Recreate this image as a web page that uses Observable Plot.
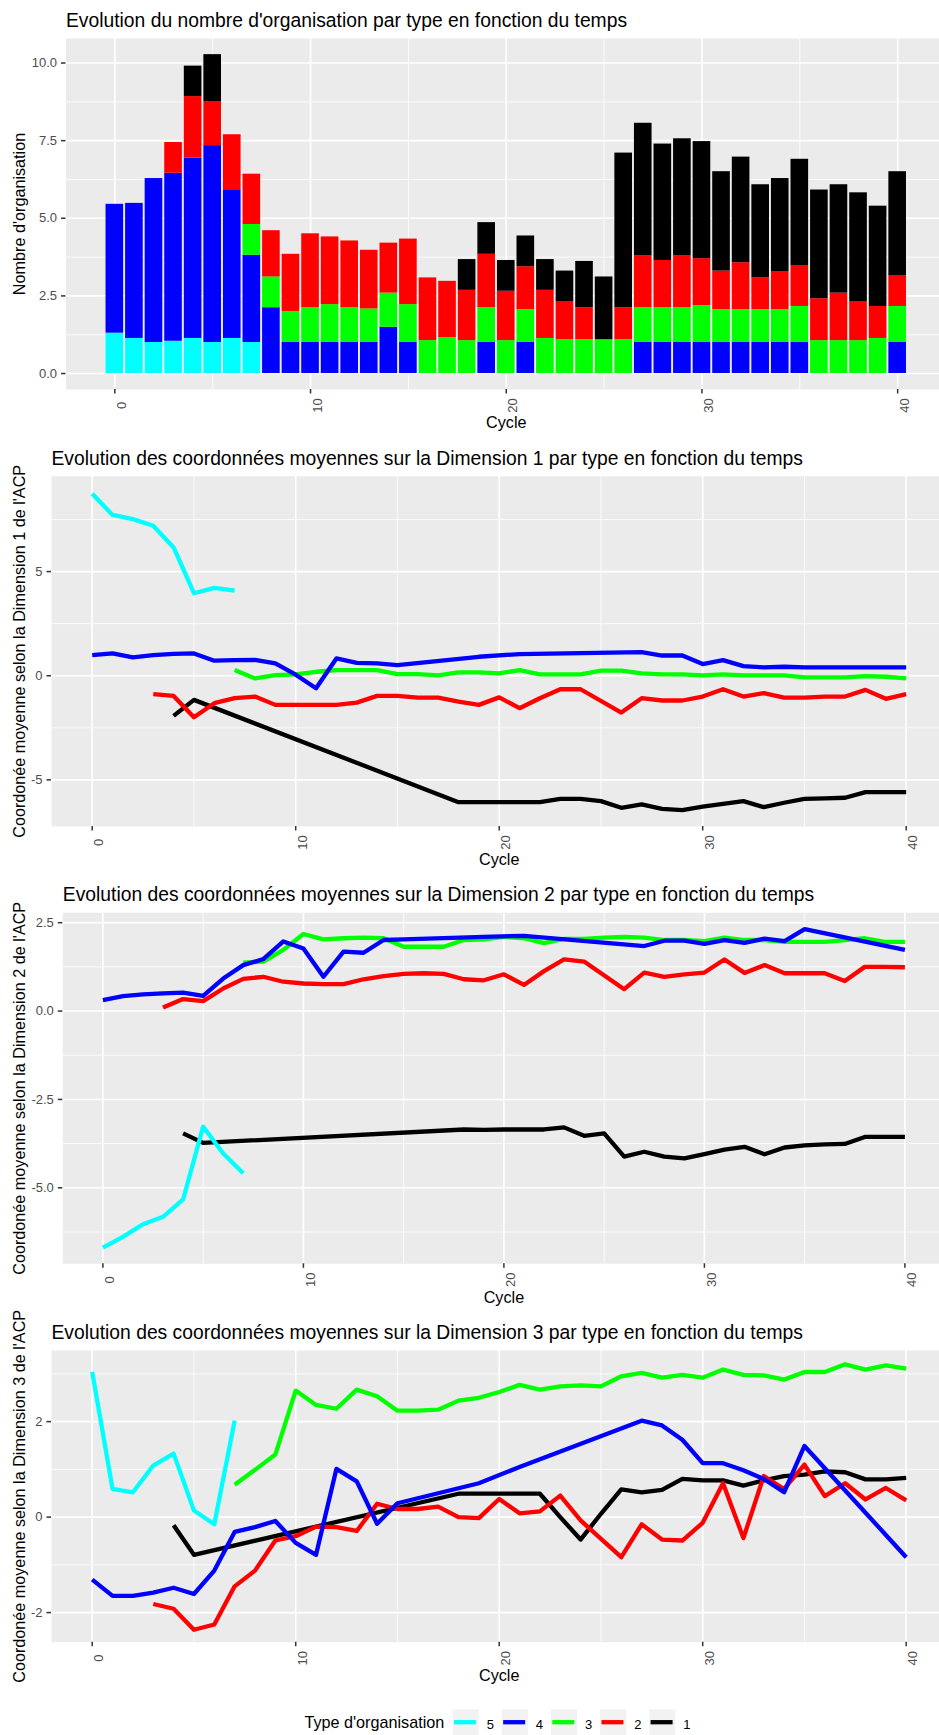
<!DOCTYPE html>
<html><head><meta charset="utf-8">
<script src="https://cdn.jsdelivr.net/npm/d3@7"></script>
<script src="https://cdn.jsdelivr.net/npm/@observablehq/plot@0.6"></script>
<style>
html,body{margin:0;padding:0;background:#fff;overflow:hidden;}
#root{position:relative;width:939px;height:1735px;overflow:hidden;font-family:"Liberation Sans",Arial,sans-serif;background:#fff;}
#root svg{position:absolute;left:0;max-width:none;}
</style></head><body><div id="root"></div>
<script>
const N = null;
const cycles = [0,1,2,3,4,5,6,7,8,9,10,11,12,13,14,15,16,17,18,19,20,21,22,23,24,25,26,27,28,29,30,31,32,33,34,35,36,37,38,39,40];
const types = ["5","4","3","2","1"];
const typeColors = ["#00FFFF","#0000FF","#00FF00","#FF0000","#000000"];

// Panel 1: number of organisations per type (stack segments)
const count5 = [1.30,1.13,1.00,1.04,1.13,1.00,1.13,1.00,0,0, 0,0,0,0,0,0,0,0,0,0, 0,0,0,0,0,0,0,0,0,0, 0,0,0,0,0,0,0,0,0,0, 0];
const count4 = [4.15,4.35,5.28,5.41,5.81,6.34,4.79,2.81,2.12,1.00, 1.00,1.00,1.00,1.00,1.49,1.00,0,0,0,1.00, 0,1.00,0,0,0,0,0,1.00,1.00,1.00, 1.00,1.00,1.00,1.00,1.00,1.00,0,0,0,0, 1.00];
const count3 = [0,0,0,0,0,0,0,0.99,0.99,1.00, 1.12,1.22,1.12,1.08,1.10,1.22,1.06,1.16,1.06,1.12, 1.06,1.06,1.13,1.09,1.09,1.09,1.09,1.12,1.12,1.12, 1.19,1.06,1.06,1.06,1.06,1.16,1.06,1.06,1.06,1.13, 1.16];
const count2 = [0,0,0,0.99,1.98,1.42,1.77,1.62,1.49,1.84, 2.38,2.18,2.15,1.89,1.61,2.11,2.02,1.81,1.62,1.72, 1.59,1.38,1.55,1.23,1.03,0,1.03,1.68,1.52,1.68, 1.51,1.24,1.51,1.02,1.21,1.32,1.35,1.53,1.26,1.03, 0.98];
const count1 = [0,0,0,0,0.98,1.51,0,0,0,0, 0,0,0,0,0,0,0,0,0.99,1.02, 0.99,0.99,0.99,0.98,1.49,2.02,4.98,4.26,3.75,3.76, 3.77,3.20,3.40,3.00,3.01,3.42,3.50,3.49,3.50,3.23, 3.36];

// Panel 2: mean coordinate on Dimension 1
const d1_5 = [8.74,7.72,7.52,7.20,6.16,3.96,4.22,4.09,N,N, N,N,N,N,N,N,N,N,N,N, N,N,N,N,N,N,N,N,N,N, N,N,N,N,N,N,N,N,N,N, N];
const d1_4 = [0.99,1.07,0.88,0.99,1.05,1.07,0.72,0.75,0.76,0.59, 0.05,-0.60,0.83,0.62,0.59,0.51,N,N,N,0.91, N,1.04,N,N,N,N,N,1.13,0.97,0.97, 0.56,0.75,0.46,0.40,0.43,0.40,N,N,N,N, 0.40];
const d1_3 = [N,N,N,N,N,N,N,0.27,-0.13,0.03, 0.06,0.19,0.27,0.27,0.27,0.08,0.08,0.02,0.16,0.16, 0.11,0.27,0.06,0.06,0.06,0.24,0.24,0.11,0.06,0.06, 0.02,0.06,0.02,0.02,0.02,-0.08,-0.08,-0.08,-0.02,-0.05, -0.13];
const d1_2 = [N,N,N,-0.88,-0.97,-1.99,-1.32,-1.08,-1.00,-1.40, -1.40,-1.40,-1.40,-1.29,-0.97,-0.97,-1.05,-1.05,-1.24,-1.40, -1.04,-1.56,-1.08,-0.65,-0.65,N,-1.77,-1.08,-1.19,-1.19, -1.00,-0.65,-1.00,-0.84,-1.05,-1.05,-1.00,-1.00,-0.68,-1.11, -0.88];
const d1_1 = [N,N,N,N,-1.93,-1.16,N,N,N,N, N,N,N,N,N,N,N,N,-6.07,-6.07, -6.07,-6.07,-6.07,-5.91,-5.91,-6.02,-6.34,-6.18,-6.39,-6.45, -6.29,-6.15,-6.02,-6.31,-6.10,-5.91,-5.89,-5.86,-5.59,-5.59, -5.59];

// Panel 3: Dimension 2
const d2_5 = [-6.69,-6.39,-6.03,-5.82,-5.33,-3.27,-4.03,-4.59,N,N, N,N,N,N,N,N,N,N,N,N, N,N,N,N,N,N,N,N,N,N, N,N,N,N,N,N,N,N,N,N, N];
const d2_4 = [0.31,0.42,0.47,0.50,0.52,0.43,0.92,1.30,1.47,1.97, 1.77,0.97,1.68,1.65,2.01,2.03,N,N,N,2.10, N,2.13,N,N,N,N,N,1.84,1.99,1.99, 1.90,2.01,1.93,2.05,1.98,2.32,N,N,N,N, 1.73];
const d2_3 = [N,N,N,N,N,N,N,1.37,1.40,1.73, 2.18,2.03,2.06,2.08,2.06,1.82,1.82,1.82,2.01,2.03, 2.10,2.06,1.92,2.04,2.04,2.08,2.10,2.08,2.01,2.01, 1.98,2.08,2.01,2.01,1.96,1.96,1.96,2.01,2.06,1.96, 1.96];
const d2_2 = [N,N,N,0.10,0.34,0.28,0.64,0.91,0.97,0.83, 0.78,0.76,0.76,0.90,0.99,1.05,1.07,1.05,0.90,0.87, 1.04,0.74,1.13,1.46,1.40,N,0.62,1.09,0.97,1.04, 1.09,1.46,1.08,1.30,1.07,1.07,1.07,0.85,1.25,1.25, 1.24];
const d2_1 = [N,N,N,N,-3.46,-3.73,N,N,N,N, N,N,N,N,N,N,N,N,-3.35,-3.36, -3.35,-3.35,-3.35,-3.29,-3.53,-3.46,-4.12,-3.98,-4.12,-4.17, -4.05,-3.92,-3.84,-4.05,-3.86,-3.80,-3.77,-3.76,-3.56,-3.56, -3.56];

// Panel 4: Dimension 3
const d3_5 = [3.04,0.59,0.52,1.08,1.33,0.14,-0.15,2.02,N,N, N,N,N,N,N,N,N,N,N,N, N,N,N,N,N,N,N,N,N,N, N,N,N,N,N,N,N,N,N,N, N];
const d3_4 = [-1.31,-1.65,-1.65,-1.58,-1.48,-1.61,-1.12,-0.31,-0.21,-0.08, -0.54,-0.79,1.01,0.75,-0.14,0.29,N,N,N,0.71, N,1.05,N,N,N,N,N,2.02,1.92,1.62, 1.13,1.13,0.98,0.80,0.52,1.49,N,N,N,N, -0.84];
const d3_3 = [N,N,N,N,N,N,N,0.68,0.99,1.31, 2.65,2.35,2.27,2.67,2.53,2.23,2.23,2.25,2.44,2.50, 2.62,2.77,2.67,2.74,2.76,2.74,2.95,3.02,2.92,2.98, 2.92,3.09,2.98,2.97,2.88,3.04,3.04,3.20,3.09,3.18, 3.11];
const d3_2 = [N,N,N,-1.82,-1.92,-2.36,-2.25,-1.45,-1.12,-0.49, -0.40,-0.20,-0.21,-0.29,0.28,0.17,0.17,0.22,0.00,-0.02, 0.38,0.08,0.12,0.45,-0.07,N,-0.84,-0.15,-0.47,-0.49, -0.12,0.71,-0.44,0.86,0.59,1.10,0.44,0.71,0.37,0.61, 0.35];
const d3_1 = [N,N,N,N,-0.17,-0.79,N,N,N,N, N,N,N,N,N,N,N,N,0.49,0.49, 0.49,0.49,0.49,0.00,-0.47,0.07,0.58,0.52,0.57,0.80, 0.77,0.77,0.66,0.77,0.86,0.89,0.96,0.94,0.79,0.79, 0.82];

// Axis ticks and labels
const xMajor = [0,10,20,30,40];
const xMinor = [5,15,25,35];
const xLabels = ["0","10","20","30","40"];
const y1Major = [0,2.5,5,7.5,10], y1Minor = [1.25,3.75,6.25,8.75], y1Labels = ["0.0","2.5","5.0","7.5","10.0"];
const y2Major = [-5,0,5], y2Minor = [-2.5,2.5,7.5], y2Labels = ["-5","0","5"];
const y3Major = [-5,-2.5,0,2.5], y3Minor = [-6.25,-3.75,-1.25,1.25], y3Labels = ["-5.0","-2.5","0.0","2.5"];
const y4Major = [-2,0,2], y4Minor = [-1,1,3], y4Labels = ["-2","0","2"];

const titles = [
  "Evolution du nombre d'organisation par type en fonction du temps",
  "Evolution des coordonnées moyennes sur la Dimension 1 par type en fonction du temps",
  "Evolution des coordonnées moyennes sur la Dimension 2 par type en fonction du temps",
  "Evolution des coordonnées moyennes sur la Dimension 3 par type en fonction du temps"
];
const yTitles = [
  "Nombre d'organisation",
  "Coordonée moyenne selon la Dimension 1 de l'ACP",
  "Coordonée moyenne selon la Dimension 2 de l'ACP",
  "Coordonée moyenne selon la Dimension 3 de l'ACP"
];
const xTitle = "Cycle";
const legendTitle = "Type d'organisation";

const FONT = "Liberation Sans, Arial, sans-serif";
const root = document.getElementById("root");

// Build stacked bar rows (bottom to top: 5,4,3,2,1)
const counts = {"5": count5, "4": count4, "3": count3, "2": count2, "1": count1};
const barRows = [];
cycles.forEach((c, i) => {
  let acc = 0;
  for (const t of types) {
    const v = counts[t][i];
    if (v > 0) { barRows.push({cycle: c, type: t, y1: acc, y2: acc + v}); acc += v; }
  }
});

const drawOrder = ["1","2","3","4","5"];
function lineRows(byType) {
  const rows = [];
  for (const t of drawOrder) byType[t].forEach((v, i) => { if (v != null) rows.push({cycle: cycles[i], type: t, value: v}); });
  return rows;
}

function panel(o) {
  const svg = Plot.plot({
    width: 960, height: o.height,
    marginTop: o.mt, marginBottom: o.mb, marginLeft: o.ml, marginRight: o.mr,
    x: {domain: o.xDomain},
    y: {domain: o.yDomain},
    color: {domain: types, range: typeColors},
    style: {fontFamily: FONT, background: "transparent", maxWidth: "none", overflow: "visible"},
    marks: [
      Plot.frame({fill: "#EBEBEB", stroke: "none"}),
      Plot.ruleY(o.yMinor, {stroke: "white", strokeWidth: 0.8}),
      Plot.ruleX(xMinor, {stroke: "white", strokeWidth: 0.8}),
      Plot.ruleY(o.yMajor, {stroke: "white", strokeWidth: 1.6}),
      Plot.ruleX(xMajor, {stroke: "white", strokeWidth: 1.6}),
      ...o.marks,
      Plot.axisY({ticks: o.yMajor, tickSize: 4.5, fill: "none", stroke: "#333333", strokeWidth: 1.5, label: null}),
      Plot.axisX({ticks: xMajor, tickSize: 4.5, fill: "none", stroke: "#333333", strokeWidth: 1.5, label: null}),
      Plot.text(o.yMajor, {y: d => d, text: (d, i) => o.yLabels[i], frameAnchor: "left", dx: -9, textAnchor: "end", fontSize: 13, fill: "#4D4D4D"}),
      Plot.text(xMajor, {x: d => d, text: (d, i) => xLabels[i], frameAnchor: "bottom", dy: 16, dx: 2, rotate: -90, textAnchor: "middle", lineAnchor: "top", fontSize: 13, fill: "#4D4D4D"}),
      Plot.text([o.title], {frameAnchor: "top-left", dy: -11.5, textAnchor: "start", lineAnchor: "bottom", fontSize: 19.3, fill: "black"}),
      Plot.text([o.yTitle], {frameAnchor: "left", dx: 19 - o.ml, rotate: -90, textAnchor: "middle", lineAnchor: "middle", fontSize: 16.2, fill: "black"}),
      Plot.text([xTitle], {frameAnchor: "bottom", dy: 33.8, textAnchor: "middle", lineAnchor: "middle", fontSize: 16.2, fill: "black"})
    ]
  });
  svg.style.top = o.top + "px";
  root.appendChild(svg);
}

const lineOpts = {x: "cycle", y: "value", z: "type", stroke: "type", strokeWidth: 4.3, strokeLinecap: "butt", strokeLinejoin: "round"};

panel({top: 0, height: 440, mt: 38, mb: 51, ml: 65.5, mr: 14,
  xDomain: [-2.495, 42.495], yDomain: [-0.514, 10.79],
  yMajor: y1Major, yMinor: y1Minor, yLabels: y1Labels, title: titles[0], yTitle: yTitles[0],
  marks: [Plot.rect(barRows, {x1: d => d.cycle - 0.45, x2: d => d.cycle + 0.45, y1: "y1", y2: "y2", fill: "type"})]});

panel({top: 440, height: 440, mt: 35.7, mb: 54, ml: 51, mr: 13.6,
  xDomain: [-2, 42], yDomain: [-7.24, 9.58],
  yMajor: y2Major, yMinor: y2Minor, yLabels: y2Labels, title: titles[1], yTitle: yTitles[1],
  marks: [Plot.line(lineRows({"5": d1_5, "4": d1_4, "3": d1_3, "2": d1_2, "1": d1_1}), lineOpts)]});

panel({top: 870, height: 440, mt: 42.3, mb: 46.7, ml: 62.3, mr: 15.5,
  xDomain: [-2, 42], yDomain: [-7.15, 2.78],
  yMajor: y3Major, yMinor: y3Minor, yLabels: y3Labels, title: titles[2], yTitle: yTitles[2],
  marks: [Plot.line(lineRows({"5": d2_5, "4": d2_4, "3": d2_3, "2": d2_2, "1": d2_1}), lineOpts)]});

panel({top: 1290, height: 410, mt: 60, mb: 58.3, ml: 51, mr: 13.6,
  xDomain: [-2, 42], yDomain: [-2.62, 3.49],
  yMajor: y4Major, yMinor: y4Minor, yLabels: y4Labels, title: titles[3], yTitle: yTitles[3],
  marks: [Plot.line(lineRows({"5": d3_5, "4": d3_4, "3": d3_3, "2": d3_2, "1": d3_1}), lineOpts)]});

// Legend (below the last panel)
const leg = d3.create("svg").attr("width", 939).attr("height", 35).style("top", "1700px")
  .style("font-family", FONT);
leg.append("text").attr("x", 444.3).attr("y", 27.7).attr("text-anchor", "end")
  .attr("font-size", 16.2).attr("fill", "black").text(legendTitle);
types.forEach((t, i) => {
  const kx = 452.7 + i * 49.15;
  const g = leg.append("g");
  g.append("rect").attr("x", kx).attr("y", 9.3).attr("width", 26).attr("height", 26).attr("fill", "#F2F2F2");
  g.append("line").attr("x1", kx + 1.3).attr("x2", kx + 23.3).attr("y1", 22.2).attr("y2", 22.2)
    .attr("stroke", typeColors[i]).attr("stroke-width", 4.3);
  g.append("text").attr("x", kx + 34).attr("y", 28.5).attr("font-size", 13).attr("fill", "black").text(t);
});
root.appendChild(leg.node());
</script>
</body></html>
